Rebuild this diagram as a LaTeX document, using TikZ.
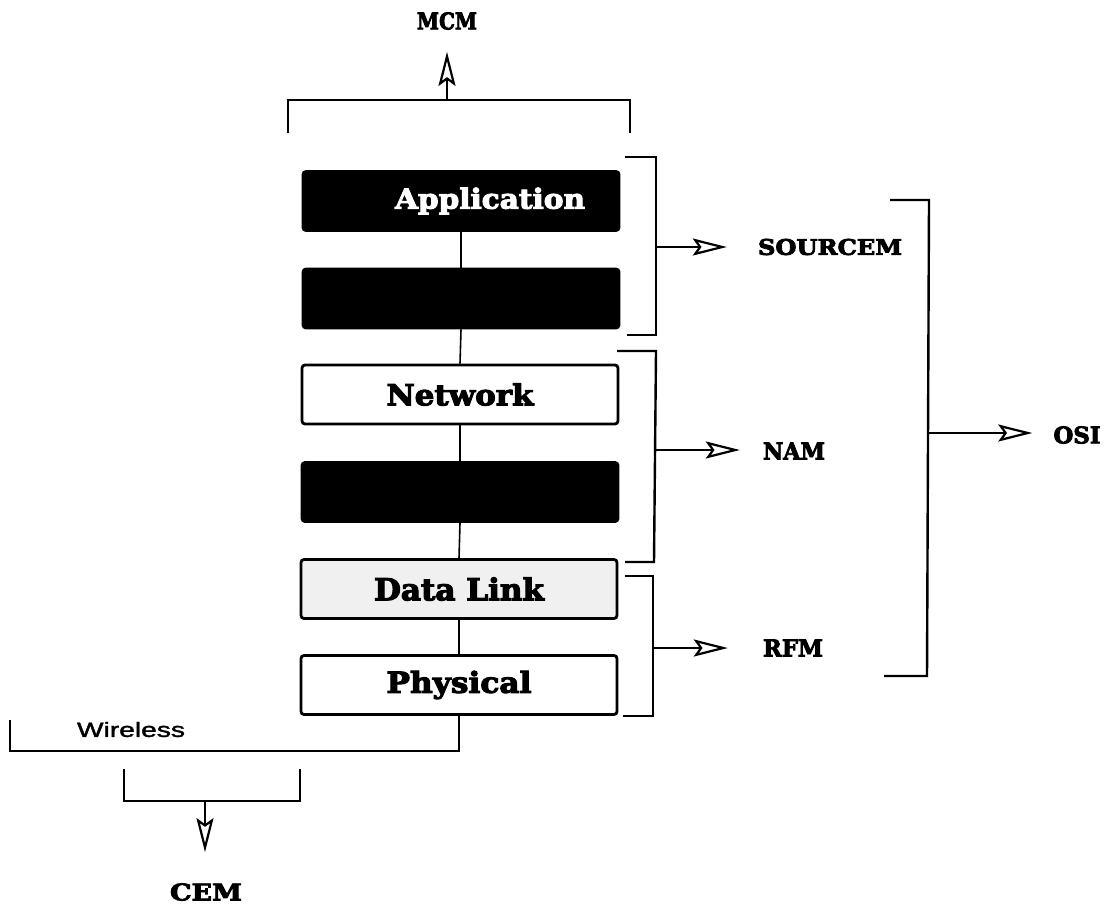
\documentclass[tikz,border=0pt]{standalone}
\usepackage{fontspec}
\setmainfont{DejaVu Serif}
\setsansfont{Liberation Sans}
\newfontfamily\heavyfont{DejaVu Serif Bold}[FakeBold=3.5]
\newfontfamily\wlfont{Liberation Sans}[FakeBold=1.5]
\usetikzlibrary{arrows.meta}
\begin{document}
\begin{tikzpicture}[x=1pt,y=-1pt,
  layer/.style={draw=black, line width=2.8pt, rounded corners=3pt, minimum width=316pt, minimum height=59pt, inner sep=0pt},
  darklayer/.style={layer, fill=black},
  bracket/.style={line width=2.4pt},
  link/.style={line width=1.6pt},
  hollow/.style={line width=1.8pt, -{Stealth[open, length=34pt, width=17pt, inset=6pt, line width=2.2pt]}},
  lbl/.style={inner sep=0pt}]
\useasboundingbox (0,0) rectangle (1107,905);

% layers
\node[darklayer, text=white] (app) at (461,201) {\hspace*{58pt}\resizebox{190pt}{21pt}{\heavyfont Application}};
\node[darklayer] (pres) at (461,298.5) {};
\node[layer] (net) at (460,394.5) {\resizebox{147pt}{22pt}{\heavyfont Network}};
\node[darklayer] (trans) at (460,492) {};
\node[layer, fill=black!6] (dl) at (459,589) {\resizebox{170pt}{23pt}{\heavyfont Data Link}};
\node[layer] (phys) at (459,685) {\resizebox{145pt}{22pt}{\heavyfont Physical}};

\draw[link] (app.south) -- (pres.north);
\draw[link] (pres.south) -- (net.north);
\draw[link] (net.south) -- (trans.north);
\draw[link] (trans.south) -- (dl.north);
\draw[link] (dl.south) -- (phys.north);

% labels
\node[lbl] (mcm) at (447,21) {\resizebox{60pt}{17pt}{\heavyfont MCM}};
\node[lbl] (src) at (830,247) {\resizebox{144pt}{16pt}{\heavyfont SOURCEM}};
\node[lbl] (nam) at (794,451) {\resizebox{62pt}{17pt}{\heavyfont NAM}};
\node[lbl] (rfm) at (793,648) {\resizebox{60pt}{17pt}{\heavyfont RFM}};
\node[lbl] (osi) at (1077,435) {\resizebox{47pt}{17pt}{\heavyfont OSI}};
\node[lbl] (cem) at (206,892) {\resizebox{72pt}{17pt}{\heavyfont CEM}};
\node[lbl] (wl) at (131,729.5) {\resizebox{108pt}{15pt}{\wlfont Wireless}};

% top bracket
\coordinate (topmid) at (447,100);
\draw[link] (288,133) -- (288,100) -- (630,100) -- (630,133);
\draw[hollow, shorten >=22pt] (topmid) -- (mcm.south);

% right brackets
\coordinate (srcmid) at (656,247);
\draw[bracket] (625,157) -- (656,157) -- (656,335) -- (627,335);
\draw[hollow, shorten >=31pt] (srcmid) -- (src.west |- srcmid);

\coordinate (nammid) at (655,450);
\draw[bracket] (617,351) -- (656,351) -- (654,562) -- (625,562);
\draw[hollow, shorten >=23pt] (nammid) -- (nam.west |- nammid);

\coordinate (rfmmid) at (653,648);
\draw[bracket] (625,576) -- (653,576) -- (653,716) -- (623,716);
\draw[hollow, shorten >=35pt] (rfmmid) -- (rfm.west |- rfmmid);

\coordinate (osimid) at (928,433);
\draw[bracket] (890,200) -- (929,200) -- (927,676) -- (884,676);
\draw[hollow, shorten >=21pt] (osimid) -- (osi.west |- osimid);

% wireless bracket
\coordinate (wr) at (phys.south |- 0,751);
\draw[link] (phys.south) -- (wr) -- (10,751) -- (10,720);

% lower bracket
\coordinate (cemmid) at (205,801);
\draw[link] (124,769) -- (124,801) -- (300,801) -- (300,769);
\draw[hollow, shorten >=31pt] (cemmid) -- (cemmid |- cem.north);
\end{tikzpicture}
\end{document}
